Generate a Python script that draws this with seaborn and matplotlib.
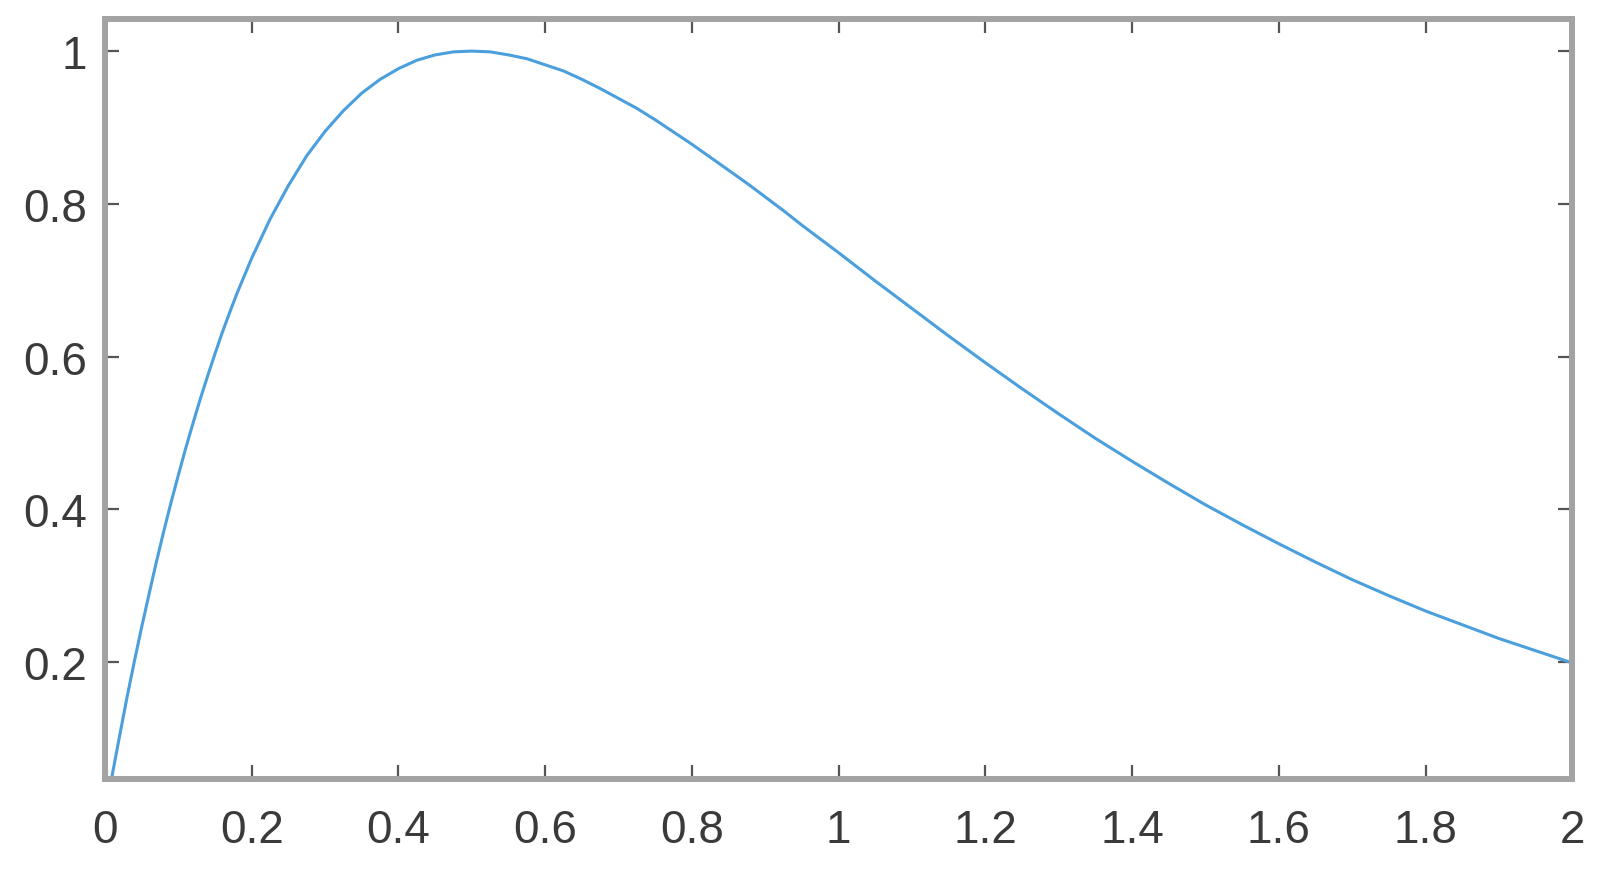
import pandas as pd
import seaborn as sns
import matplotlib.pyplot as plt

# Curve values
x_vals = [0.0, 0.005, 0.01, 0.02, 0.03, 0.04, 0.05, 0.06, 0.07, 0.08, 0.09, 0.10,
          0.11, 0.12, 0.13, 0.14, 0.15, 0.16, 0.17, 0.18, 0.19, 0.20,
          0.225, 0.25, 0.275, 0.30, 0.325, 0.35, 0.375, 0.40, 0.425, 0.45, 0.475,
          0.50, 0.525, 0.55, 0.575, 0.60, 0.625, 0.65, 0.675, 0.70, 0.725, 0.75,
          0.775, 0.80, 0.825, 0.85, 0.875, 0.90, 0.925, 0.95, 0.975, 1.00,
          1.05, 1.10, 1.15, 1.20, 1.25, 1.30, 1.35, 1.40, 1.45, 1.50, 1.55,
          1.60, 1.65, 1.70, 1.75, 1.80, 1.85, 1.90, 1.95, 2.00]
y_vals = [0.0, 0.027, 0.053, 0.104, 0.154, 0.201, 0.246, 0.289, 0.331, 0.371, 0.409, 0.445,
          0.480, 0.513, 0.545, 0.575, 0.604, 0.632, 0.658, 0.683, 0.706, 0.729,
          0.780, 0.824, 0.863, 0.895, 0.922, 0.945, 0.963, 0.977, 0.988, 0.995, 0.999,
          1.0, 0.999, 0.995, 0.990, 0.982, 0.974, 0.963, 0.951, 0.938, 0.925, 0.910,
          0.894, 0.878, 0.861, 0.844, 0.827, 0.809, 0.791, 0.772, 0.754, 0.736,
          0.699, 0.663, 0.627, 0.592, 0.558, 0.525, 0.493, 0.463, 0.434, 0.406, 0.380,
          0.355, 0.331, 0.308, 0.287, 0.267, 0.249, 0.231, 0.215, 0.199]

x_ticks = [0, 0.2, 0.4, 0.6, 0.8, 1, 1.2, 1.4, 1.6, 1.8, 2]
x_labels = ["0", "0.2", "0.4", "0.6", "0.8", "1", "1.2", "1.4", "1.6", "1.8", "2"]
y_ticks = [0.2, 0.4, 0.6, 0.8, 1]
y_labels = ["0.2", "0.4", "0.6", "0.8", "1"]

df = pd.DataFrame({"x": x_vals, "y": y_vals})

sns.set_theme(style="white")
plt.rcParams['font.family'] = ['Liberation Sans', 'DejaVu Sans']

fig = plt.figure(figsize=(16.08, 8.7), dpi=100)
ax = fig.add_axes([0.0653, 0.1034, 0.9125, 0.8736])

sns.lineplot(data=df, x="x", y="y", ax=ax, color="#4a9fdc", linewidth=2.2)

ax.set_xlim(0, 2)
ax.set_ylim(0.047, 1.042)
ax.set_xticks(x_ticks)
ax.set_xticklabels(x_labels)
ax.set_yticks(y_ticks)
ax.set_yticklabels(y_labels)
ax.set_xlabel("")
ax.set_ylabel("")

for side in ["left", "right", "top", "bottom"]:
    ax.spines[side].set_visible(True)
    ax.spines[side].set_color("#a3a3a3")
    ax.spines[side].set_linewidth(4.3)

ax.tick_params(axis="both", which="major", direction="in", length=10, width=1.6,
               color="#555555", labelsize=33, labelcolor="#3a3a3a",
               top=True, right=True, bottom=True, left=True)
ax.tick_params(axis="x", pad=21)
ax.tick_params(axis="y", pad=13)

plt.savefig("out.png", dpi=100)
